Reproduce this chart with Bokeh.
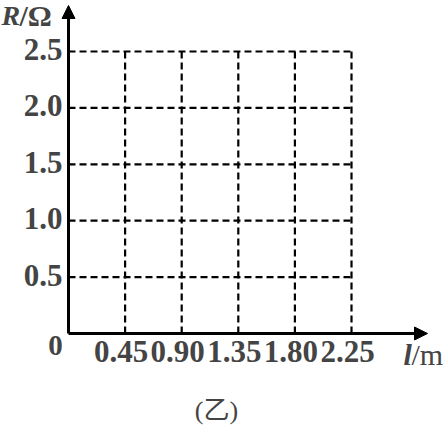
from bokeh.plotting import figure
from bokeh.models import Range1d, Arrow, NormalHead, Label
from bokeh.embed import file_html
from bokeh.resources import INLINE

# ---- data ----
x_ticks = [0.45, 0.90, 1.35, 1.80, 2.25]
x_labels = ["0.45", "0.90", "1.35", "1.80", "2.25"]
y_ticks = [0.5, 1.0, 1.5, 2.0, 2.5]
y_labels = ["0.5", "1.0", "1.5", "2.0", "2.5"]
x_title_italic = "l"
x_title_rest = "/m"
y_title_italic = "R"
y_title_rest = "/Ω"
caption = "(乙)"
origin_label = "0"

W, H = 446, 430
X0PX, Y0PX = 68, 333            # pixel position of the origin
XSCALE, YSCALE = 125.78, 112.8  # pixels per data unit
XS, XE = -X0PX / XSCALE, (W - X0PX) / XSCALE
YS, YE = -(H - Y0PX) / YSCALE, Y0PX / YSCALE

def px_x(px):
    return XS + px / W * (XE - XS)

def px_y(py):  # py measured from top of figure
    return YE - py / H * (YE - YS)

SERIF = "Liberation Serif"

p = figure(width=W, height=H, x_range=Range1d(XS, XE), y_range=Range1d(YS, YE),
           output_backend="svg", toolbar_location=None, min_border=0)
p.axis.visible = False
p.grid.visible = False
p.outline_line_color = None
p.background_fill_color = "white"
p.border_fill_color = "white"

x_max = x_ticks[-1]
y_max = y_ticks[-1]

# dashed grid
p.multi_line(xs=[[0, x_max] for _ in y_ticks], ys=[[v, v] for v in y_ticks],
             line_color="black", line_width=2.2, line_dash="7 4")
p.multi_line(xs=[[v, v] for v in x_ticks], ys=[[0, y_max] for _ in x_ticks],
             line_color="black", line_width=2.2, line_dash="7 4")

# axes with arrows
x_tip = px_x(427)
y_tip = px_y(5)
p.add_layout(Arrow(x_start=0, y_start=0, x_end=x_tip, y_end=0, line_width=3,
                   end=NormalHead(size=13, fill_color="black", line_color="black", line_width=1)))
p.add_layout(Arrow(x_start=0, y_start=0, x_end=0, y_end=y_tip, line_width=3,
                   end=NormalHead(size=13, fill_color="black", line_color="black", line_width=1)))

# tick labels
for v, t in zip(x_ticks, x_labels):
    p.add_layout(Label(x=v, y=px_y(351), text=t, x_offset=-4, text_align="center",
                       text_baseline="middle", text_font=SERIF, text_font_size="31px",
                       text_font_style="bold"))
for v, t in zip(y_ticks, y_labels):
    p.add_layout(Label(x=0, y=v, text=t, x_offset=-6, y_offset=2, text_align="right",
                       text_baseline="middle", text_font=SERIF, text_font_size="31px",
                       text_font_style="bold"))

# origin
p.add_layout(Label(x=px_x(55), y=px_y(345), text=origin_label, text_align="center",
                   text_baseline="middle", text_font=SERIF, text_font_size="29px",
                   text_font_style="bold"))

# axis titles
p.add_layout(Label(x=px_x(403), y=px_y(354), text=x_title_italic, text_align="left",
                   text_baseline="middle", text_font=SERIF, text_font_size="30px",
                   text_font_style="bold italic"))
p.add_layout(Label(x=px_x(411), y=px_y(354), text=x_title_rest, text_align="left",
                   text_baseline="middle", text_font=SERIF, text_font_size="30px"))
p.add_layout(Label(x=px_x(1), y=px_y(15), text=y_title_italic, text_align="left",
                   text_baseline="middle", text_font=SERIF, text_font_size="28px",
                   text_font_style="bold italic"))
p.add_layout(Label(x=px_x(19), y=px_y(15), text=y_title_rest, text_align="left",
                   text_baseline="middle", text_font=SERIF, text_font_size="30px",
                   text_font_style="bold"))

# caption
p.add_layout(Label(x=px_x(216), y=px_y(410), text=caption, text_align="center",
                   text_baseline="middle", text_font=SERIF + ", Noto Sans CJK SC",
                   text_font_size="26px"))

open("out.html", "w").write(file_html(p, INLINE))
